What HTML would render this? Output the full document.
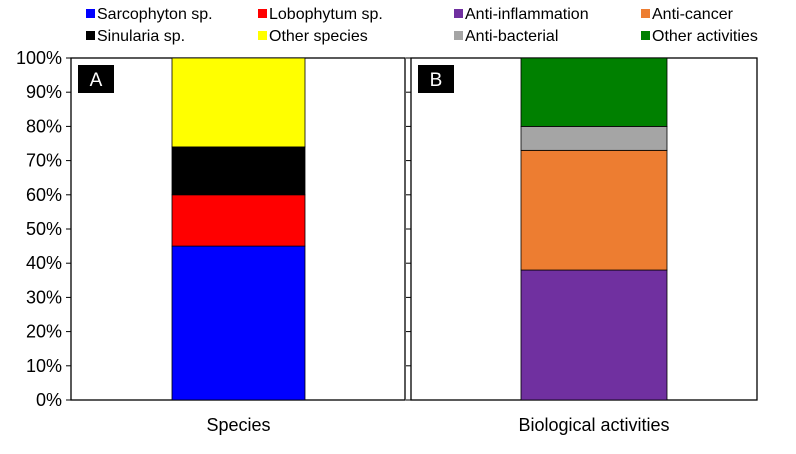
<!DOCTYPE html>
<html><head><meta charset="utf-8"><style>
body{margin:0;background:#fff;font-family:"Liberation Sans",Arial,sans-serif}
svg text{font-family:"Liberation Sans",Arial,sans-serif}
</style></head><body>
<svg id="c" width="796" height="449"></svg>
<script>
const panels=["Species","Biological activities"];
const speciesNames=["Sarcophyton sp.","Lobophytum sp.","Sinularia sp.","Other species"];
const speciesValues=[45,15,14,26];
const speciesColors=["#0000ff","#ff0000","#000000","#ffff00"];
const actNames=["Anti-inflammation","Anti-cancer","Anti-bacterial","Other activities"];
const actValues=[38,35,7,20];
const actColors=["#7030a0","#ed7d31","#a5a5a5","#008000"];
const yTicks=[0,10,20,30,40,50,60,70,80,90,100];
const NS="http://www.w3.org/2000/svg";
const svg=document.getElementById('c');
function mk(t,a,p){const e=document.createElementNS(NS,t);for(const k in a)e.setAttribute(k,a[k]);(p||svg).appendChild(e);return e;}
const y0=400,y1=58;
function y(v){return y0-(y0-y1)*v/100;}
const frames=[{l:71,r:405,bx:172,bw:133,lab:"A"},{l:411,r:757,bx:521,bw:146,lab:"B"}];
const sets=[[speciesNames,speciesValues,speciesColors],[actNames,actValues,actColors]];
frames.forEach((f,i)=>{
  const r=mk('rect',{x:f.l,y:y1,width:f.r-f.l,height:y0-y1,fill:'#fff',stroke:'#000','stroke-width':1.3});
  
  
  yTicks.forEach(t=>{mk('line',{x1:f.l-5,x2:f.l,y1:y(t),y2:y(t),stroke:'#000','stroke-width':1});});
  let acc=0;const [names,vals,cols]=sets[i];
  vals.forEach((v,j)=>{
    const b=mk('rect',{x:f.bx,y:y(acc+v),width:f.bw,height:y(acc)-y(acc+v),fill:cols[j],stroke:'#000','stroke-width':0.8});
    
    
    acc+=v;
  });
  const lb=mk('rect',{x:f.l+7,y:65,width:36,height:28,fill:'#000'});
  
  
  const lt=mk('text',{x:f.l+25,y:86,fill:'#fff','font-size':19,'text-anchor':'middle'});lt.textContent=f.lab;
  const xt=mk('text',{x:f.bx+f.bw/2,y:431,'font-size':18,'text-anchor':'middle'});xt.textContent=panels[i];
  
  
});
yTicks.forEach(t=>{const e=mk('text',{x:62,y:y(t)+6,'font-size':18,'text-anchor':'end'});e.textContent=t+'%';
  
  });
const legNames=[speciesNames[0],speciesNames[1],actNames[0],actNames[1],speciesNames[2],speciesNames[3],actNames[2],actNames[3]];
const legCols=[speciesColors[0],speciesColors[1],actColors[0],actColors[1],speciesColors[2],speciesColors[3],actColors[2],actColors[3]];
const lx=[86,258,454,641];
legNames.forEach((n,k)=>{
  const cx=lx[k%4],cy=k<4?14:36;
  const g=mk('g',{});
  
  
  mk('rect',{x:cx,y:cy-5,width:9,height:9,fill:legCols[k]},g);
  const t=mk('text',{x:cx+11,y:cy+5,'font-size':16},g);t.textContent=n;
});
</script>
</body></html>
